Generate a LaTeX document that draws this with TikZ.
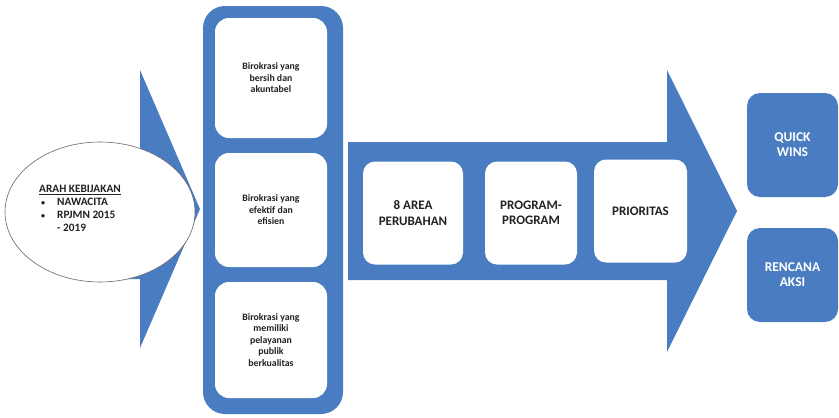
\documentclass[tikz,border=0pt]{standalone}
\usepackage{fontspec}
\setmainfont{Carlito}
\usetikzlibrary{shapes.geometric}
\definecolor{flowblue}{HTML}{4A7CC1}
\definecolor{inktext}{HTML}{222222}
\newcommand{\smallbullet}{\makebox[18pt][l]{\hspace*{2pt}{\fontsize{8}{8}\selectfont\textbullet}}}
\begin{document}
\begin{tikzpicture}[x=1pt,y=-1pt,
  whitebox/.style={fill=white, rounded corners=14pt, inner sep=2pt, outer sep=0pt,
    align=center, text=inktext, font=\bfseries\fontsize{9.8}{11.5}\selectfont},
  stagebox/.style={whitebox, rounded corners=12pt, font=\bfseries\fontsize{13}{15.5}\selectfont},
  bluebox/.style={fill=flowblue, rounded corners=13pt, inner sep=2pt, outer sep=0pt,
    align=center, text=white, font=\bfseries\fontsize{13.5}{15}\selectfont},
  bigarrow/.style={fill=flowblue}]
\useasboundingbox (0,0) rectangle (839,418);

% left arrow behind the policy ellipse
\fill[bigarrow] (100,148) -- (140,148) -- (140,70) -- (200,209) -- (140,348) -- (140,279) -- (100,279) -- cycle;

% policy ellipse
\node[ellipse, draw=black!60, line width=0.6pt, fill=white, minimum width=190pt, minimum height=140pt, inner sep=0pt] (policy) at (100,212) {};
\node[anchor=north west, align=left, inner sep=0pt, text=inktext,
  font=\bfseries\fontsize{11.3}{13}\selectfont] (policytext) at (39,185)
  {\underline{ARAH KEBIJAKAN}\\
   \smallbullet NAWACITA\\
   \smallbullet RPJMN 2015\\
   \hspace*{18pt}- 2019};

% container of the three bureaucracy goals
\fill[flowblue, rounded corners=22pt] (203,6) rectangle (343,414);
\node[whitebox, minimum width=112pt, minimum height=120pt] (goal1) at (271,78) {Birokrasi yang\\bersih dan\\akuntabel};
\node[whitebox, minimum width=112pt, minimum height=114pt] (goal2) at (271,210) {Birokrasi yang\\efektif dan\\efisien};
\node[whitebox, minimum width=112pt, minimum height=116pt] (goal3) at (271,340) {Birokrasi yang\\memiliki\\pelayanan\\publik\\berkualitas};

% right arrow carrying the stages
\fill[bigarrow] (348,142) -- (667,142) -- (667,70) -- (737,211) -- (667,352) -- (667,280) -- (348,280) -- cycle;
\node[stagebox, minimum width=100pt, minimum height=103pt] (area) at (413,213) {8 AREA\\PERUBAHAN};
\node[stagebox, minimum width=92pt, minimum height=103pt] (program) at (531,213) {PROGRAM-\\PROGRAM};
\node[stagebox, minimum width=93pt, minimum height=103pt] (prioritas) at (640.5,211) {PRIORITAS};

% outcome boxes
\node[bluebox, minimum width=91pt, minimum height=104pt] (quick) at (792.5,145) {QUICK\\WINS};
\node[bluebox, minimum width=91pt, minimum height=94pt] (rencana) at (792.5,275) {RENCANA\\AKSI};
\end{tikzpicture}
\end{document}
